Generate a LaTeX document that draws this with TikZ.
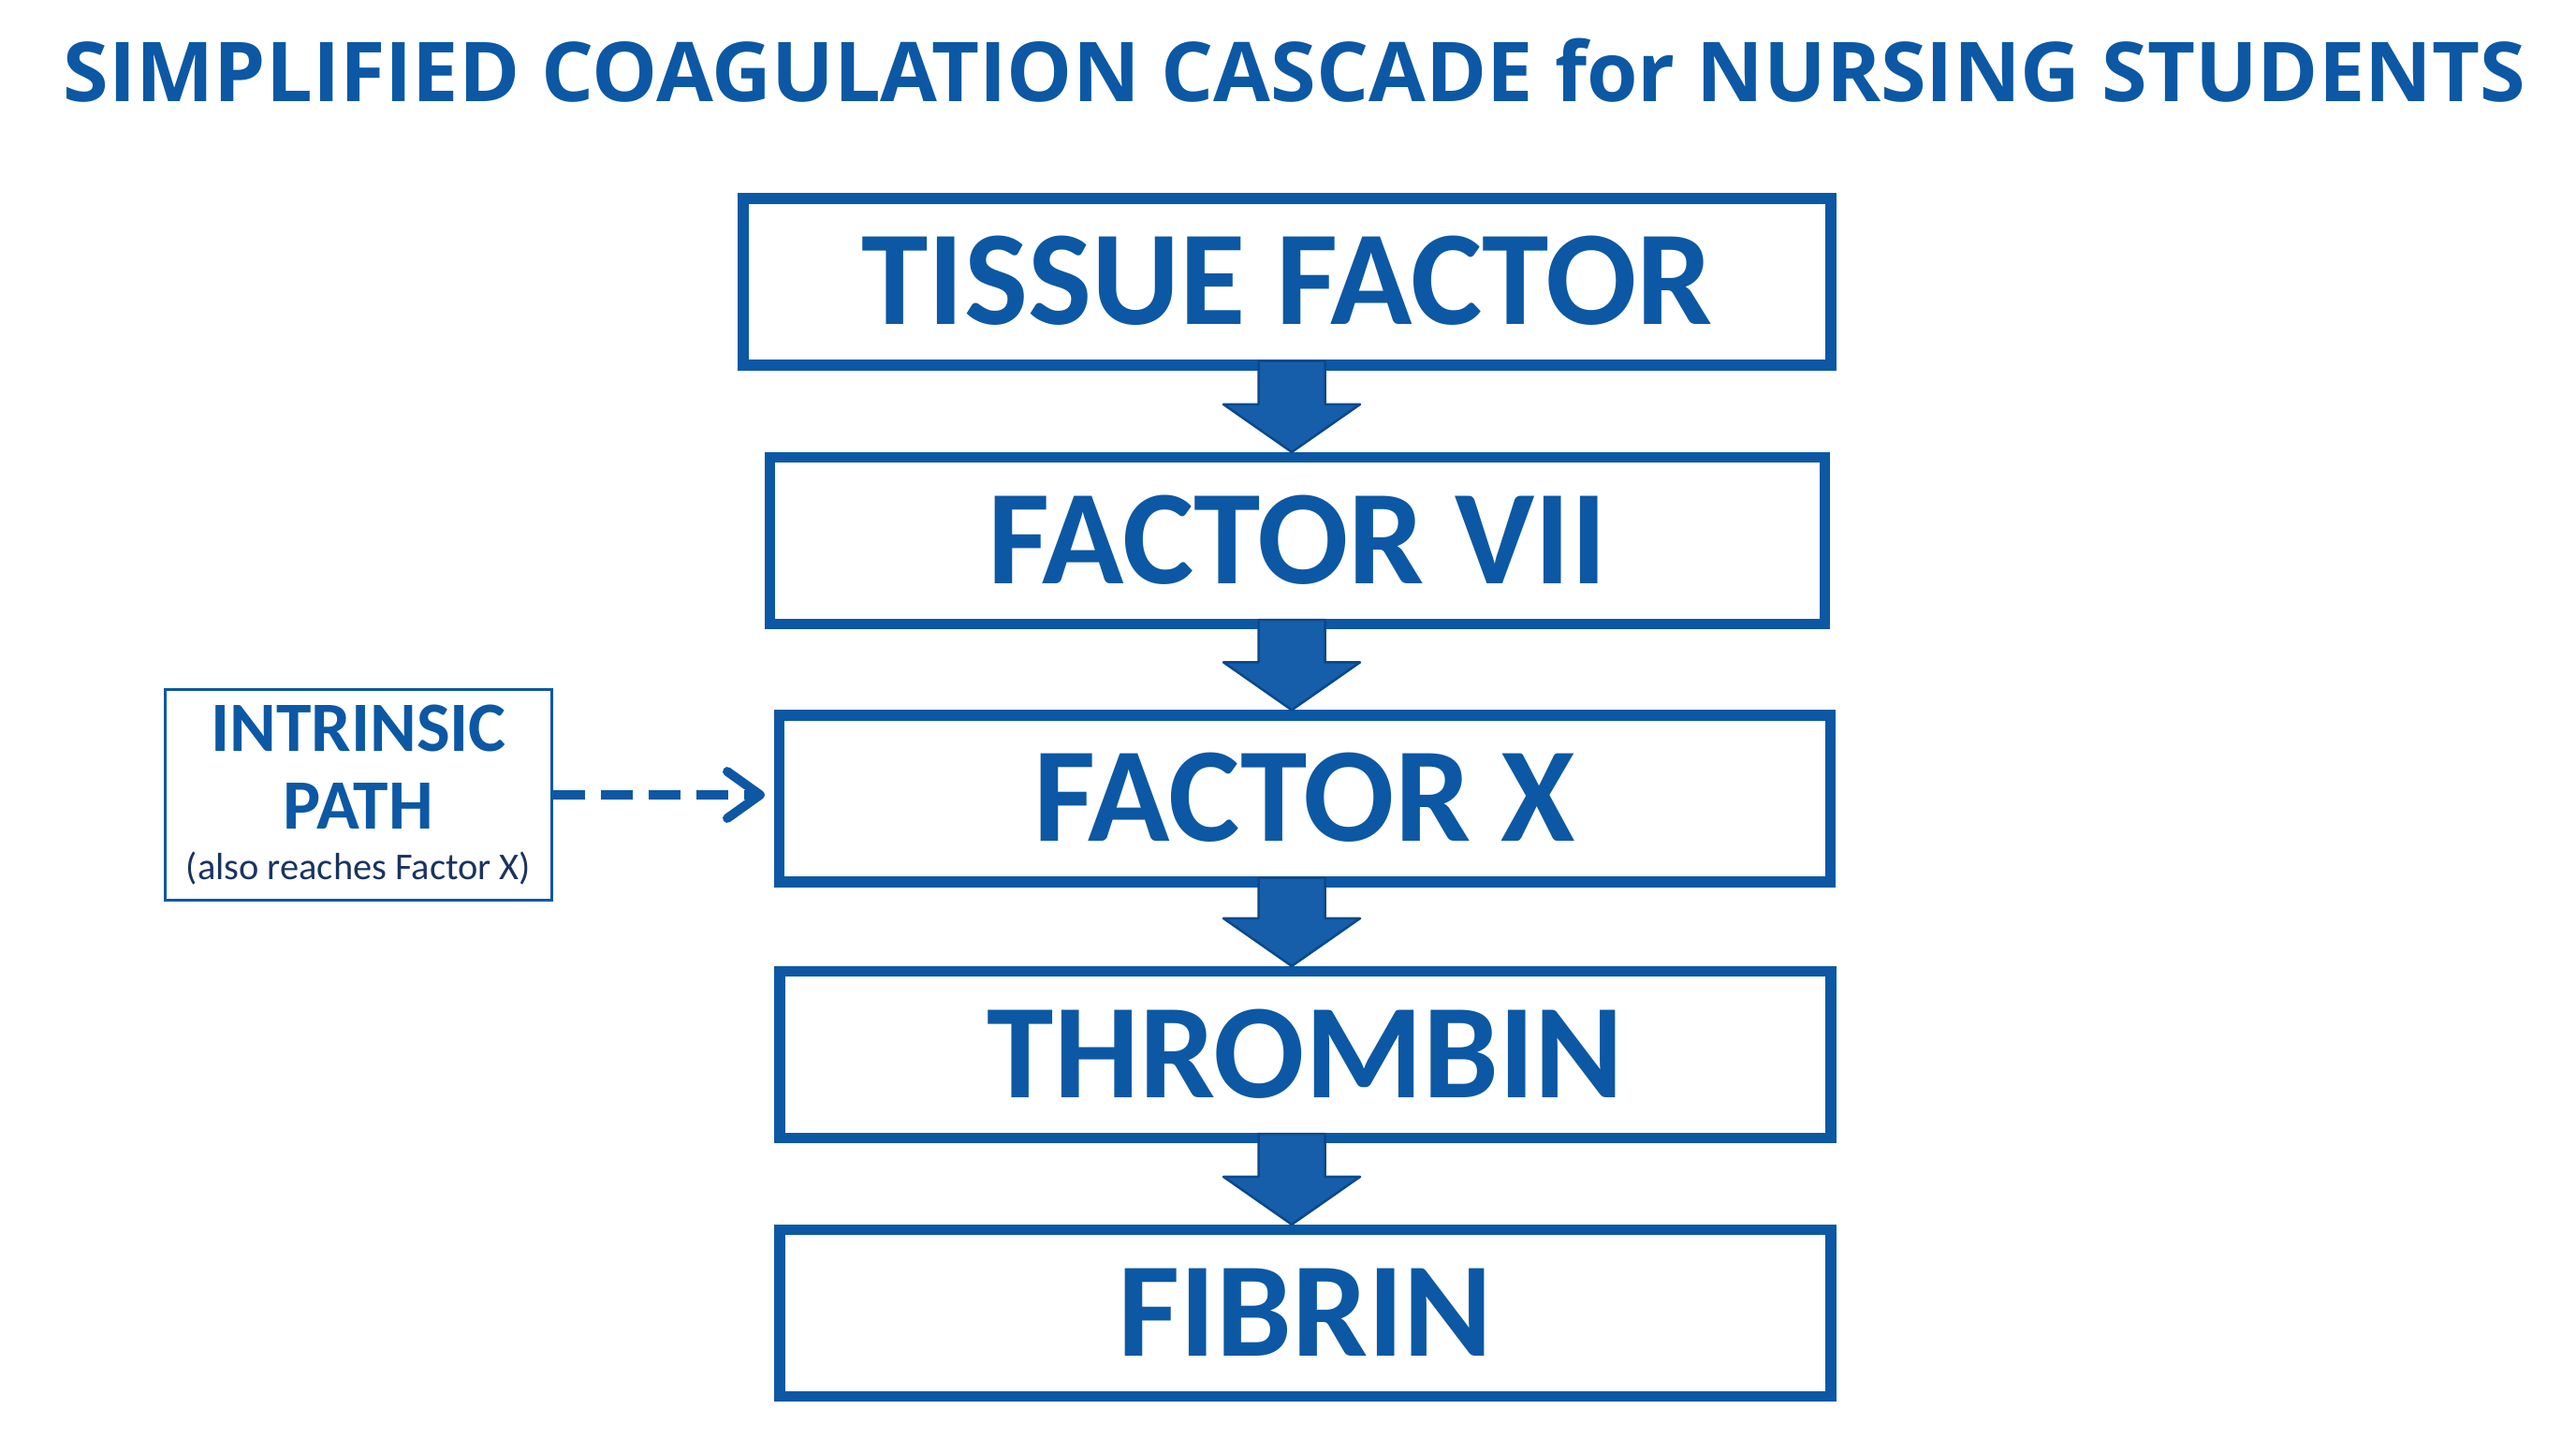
\documentclass[tikz,border=0pt]{standalone}
\usepackage{fontspec}
\setmainfont{Carlito}
\newfontfamily\titlefont{Open Sans}
\usetikzlibrary{calc,arrows.meta}
\definecolor{cascadeblue}{RGB}{12,88,164}
\definecolor{arrowfill}{RGB}{22,94,170}
\definecolor{arrowedge}{RGB}{10,72,140}
\definecolor{notenavy}{RGB}{25,52,96}
% freccia piena tra due blocchi
\newcommand{\cascadearrow}[2]{%
  \draw[blockarrow] ($(axis |- #1.south)+(-0.355,0.1)$) -- ($(axis |- #2.north)+(-0.355,0.51)$)
    -- ($(axis |- #2.north)+(-0.73,0.51)$) -- (axis |- #2.north) -- ($(axis |- #2.north)+(0.73,0.51)$)
    -- ($(axis |- #2.north)+(0.355,0.51)$) -- ($(axis |- #1.south)+(0.355,0.1)$) -- cycle;}
\begin{document}
\begin{tikzpicture}[
    stage/.style={draw=cascadeblue, line width=3.2pt, fill=white, minimum width=11.23cm, minimum height=1.78cm,
      inner sep=0pt, text=cascadeblue, font=\fontsize{41}{41}\selectfont\bfseries, text height=26pt, text depth=0pt},
    blockarrow/.style={fill=arrowfill, draw=arrowedge, line width=0.7pt, line join=round},
    sidebox/.style={draw=cascadeblue, line width=1.1pt, minimum width=4.13cm, minimum height=2.25cm, inner sep=0pt,
      align=center, text=cascadeblue, font=\fontsize{21.5}{23.6}\selectfont\bfseries},
    pathlink/.style={draw=cascadeblue, line width=2.8pt, dash pattern=on 9.5pt off 5pt,
      -{Straight Barb[length=3.5mm,width=5mm,line cap=round,line join=round]}, shorten >=1mm}]
        \useasboundingbox (0,0) rectangle (27.52,-15.36);
        \fill[white] (0,0) rectangle (27.52,-15.36);
        % titolo
        \node[anchor=base, text=cascadeblue, font=\titlefont\fontsize{25.1}{25.1}\selectfont\bfseries] (title) at (13.83,-1.08)
          {SIMPLIFIED COAGULATION CASCADE for NURSING STUDENTS};
        % blocchi della cascata
        \coordinate (axis) at (13.8,0);
        \node[stage, minimum width=11.62cm] (tissue) at (13.75,-3.01) {TISSUE FACTOR};
        \node[stage, minimum width=11.27cm] (factorvii) at (13.86,-5.775) {FACTOR VII};
        \node[stage] (factorx) at (13.94,-8.53) {FACTOR X};
        \node[stage] (thrombin) at (13.945,-11.265) {THROMBIN};
        \node[stage] (fibrin) at (13.945,-14.025) {FIBRIN};
        % frecce
        \cascadearrow{tissue}{factorvii}
        \cascadearrow{factorvii}{factorx}
        \cascadearrow{factorx}{thrombin}
        \cascadearrow{thrombin}{fibrin}
        % via intrinseca
        \node[sidebox] (intrinsic) at (3.83,-8.49)
          {INTRINSIC\\PATH\\[-8pt]{\mdseries\color{notenavy}\fontsize{11.5}{13.5}\selectfont (also reaches Factor X)}};
        \draw[pathlink] (intrinsic.east) -- (intrinsic.east -| factorx.west);
    \end{tikzpicture}
\end{document}
